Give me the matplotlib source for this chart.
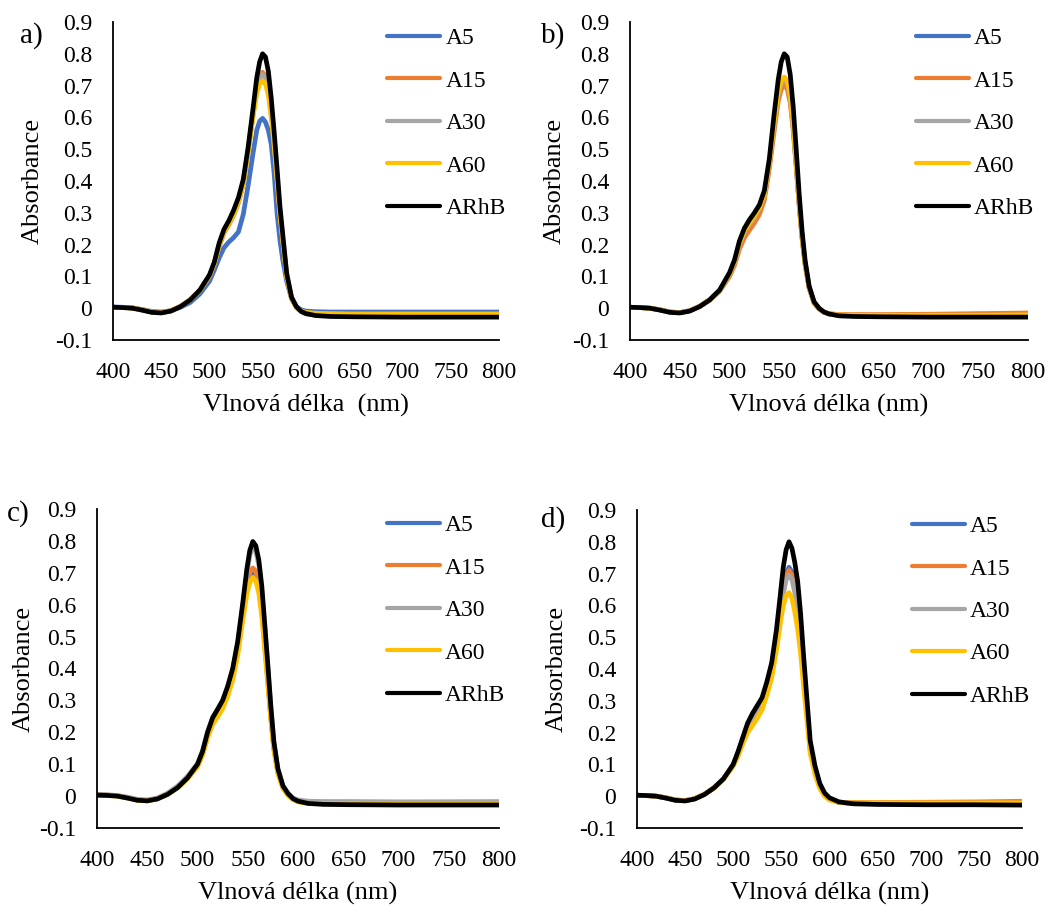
import matplotlib
matplotlib.use("Agg")
import matplotlib.pyplot as plt

plt.rcParams["font.family"] = "Liberation Serif"

# wavelength grid (nm) shared by all spectra
wl = [400, 410, 420, 430, 440, 450, 460, 470, 480, 490,
      500, 505, 510, 515, 520, 525, 530, 535, 540, 545,
      549, 552, 555, 558, 561, 564, 567, 570, 573, 576,
      580, 585, 590, 595, 600, 610, 625, 650, 700, 750, 800]

series_names = ["A5", "A15", "A30", "A60", "ARhB"]
series_colors = ["#4472C4", "#ED7D31", "#A5A5A5", "#FFC000", "#000000"]

x_ticks = [400, 450, 500, 550, 600, 650, 700, 750, 800]
y_ticks = [-0.1, 0, 0.1, 0.2, 0.3, 0.4, 0.5, 0.6, 0.7, 0.8, 0.9]
y_tick_labels = ["-0.1", "0", "0.1", "0.2", "0.3", "0.4", "0.5", "0.6", "0.7", "0.8", "0.9"]

# ---- panel a) ----
a_A5 = [0.004, 0.003, 0.001, -0.004, -0.010, -0.012, -0.008, 0.003, 0.018, 0.045,
        0.085, 0.120, 0.158, 0.190, 0.208, 0.222, 0.240, 0.295, 0.385, 0.485,
        0.560, 0.588, 0.597, 0.585, 0.560, 0.515, 0.424, 0.300, 0.214, 0.150,
        0.085, 0.030, 0.005, -0.005, -0.009, -0.011, -0.012, -0.012, -0.012, -0.012, -0.012]
a_A15 = [0.003, 0.002, 0.001, -0.005, -0.012, -0.014, -0.008, 0.006, 0.026, 0.055,
         0.100, 0.138, 0.194, 0.236, 0.262, 0.292, 0.332, 0.390, 0.495, 0.610,
         0.695, 0.730, 0.742, 0.730, 0.690, 0.620, 0.525, 0.415, 0.302, 0.215,
         0.103, 0.032, 0.003, -0.010, -0.016, -0.020, -0.021, -0.021, -0.021, -0.021, -0.021]
a_A30 = [0.003, 0.002, 0.001, -0.005, -0.012, -0.014, -0.008, 0.006, 0.026, 0.055,
         0.100, 0.139, 0.196, 0.238, 0.264, 0.294, 0.334, 0.392, 0.494, 0.605,
         0.688, 0.722, 0.735, 0.722, 0.684, 0.614, 0.520, 0.411, 0.300, 0.213,
         0.102, 0.031, 0.002, -0.011, -0.018, -0.022, -0.023, -0.023, -0.023, -0.023, -0.023]
a_A60 = [0.003, 0.002, 0.001, -0.005, -0.012, -0.014, -0.008, 0.006, 0.027, 0.057,
         0.102, 0.140, 0.197, 0.240, 0.265, 0.295, 0.335, 0.390, 0.490, 0.600,
         0.675, 0.705, 0.715, 0.705, 0.670, 0.600, 0.510, 0.405, 0.295, 0.210,
         0.100, 0.030, 0.003, -0.008, -0.013, -0.016, -0.017, -0.018, -0.018, -0.018, -0.018]
a_ARhB = [0.003, 0.002, 0.000, -0.006, -0.013, -0.015, -0.009, 0.005, 0.026, 0.057,
          0.105, 0.145, 0.205, 0.248, 0.275, 0.308, 0.348, 0.405, 0.505, 0.625,
          0.725, 0.775, 0.800, 0.790, 0.745, 0.660, 0.555, 0.440, 0.320, 0.230,
          0.110, 0.035, 0.005, -0.010, -0.017, -0.023, -0.026, -0.027, -0.028, -0.028, -0.028]

# ---- panel b) ----
b_A5 = [0.003, 0.002, 0.000, -0.005, -0.012, -0.014, -0.008, 0.006, 0.026, 0.055,
        0.105, 0.142, 0.198, 0.236, 0.260, 0.282, 0.308, 0.350, 0.450, 0.575,
        0.668, 0.703, 0.715, 0.705, 0.660, 0.570, 0.452, 0.328, 0.220, 0.138,
        0.064, 0.017, -0.002, -0.013, -0.018, -0.021, -0.022, -0.022, -0.022, -0.022, -0.022]
b_A15 = [0.003, 0.002, 0.000, -0.005, -0.012, -0.014, -0.008, 0.006, 0.025, 0.053,
         0.100, 0.135, 0.186, 0.222, 0.245, 0.268, 0.295, 0.340, 0.438, 0.560,
         0.652, 0.688, 0.700, 0.690, 0.646, 0.558, 0.443, 0.322, 0.216, 0.136,
         0.063, 0.016, -0.002, -0.012, -0.017, -0.020, -0.020, -0.020, -0.019, -0.017, -0.015]
b_A30 = [0.003, 0.002, 0.000, -0.005, -0.012, -0.014, -0.008, 0.006, 0.026, 0.055,
         0.106, 0.144, 0.200, 0.240, 0.264, 0.286, 0.312, 0.354, 0.455, 0.580,
         0.672, 0.706, 0.718, 0.708, 0.663, 0.573, 0.455, 0.330, 0.222, 0.139,
         0.065, 0.018, -0.002, -0.013, -0.018, -0.022, -0.023, -0.023, -0.023, -0.023, -0.023]
b_A60 = [0.003, 0.002, 0.000, -0.005, -0.012, -0.014, -0.008, 0.006, 0.027, 0.057,
         0.108, 0.147, 0.204, 0.244, 0.268, 0.290, 0.316, 0.358, 0.460, 0.588,
         0.680, 0.715, 0.727, 0.716, 0.670, 0.580, 0.460, 0.334, 0.224, 0.140,
         0.066, 0.018, -0.001, -0.012, -0.017, -0.021, -0.022, -0.022, -0.022, -0.022, -0.021]
b_ARhB = [0.003, 0.002, 0.000, -0.006, -0.013, -0.015, -0.009, 0.005, 0.026, 0.057,
          0.112, 0.152, 0.212, 0.252, 0.278, 0.300, 0.325, 0.370, 0.470, 0.615,
          0.720, 0.775, 0.800, 0.790, 0.735, 0.634, 0.500, 0.360, 0.240, 0.150,
          0.070, 0.020, 0.000, -0.012, -0.018, -0.024, -0.026, -0.027, -0.028, -0.028, -0.028]

# ---- panel c) ----
c_A5 = [0.004, 0.003, 0.001, -0.005, -0.012, -0.014, -0.008, 0.006, 0.027, 0.056,
        0.095, 0.132, 0.188, 0.230, 0.256, 0.282, 0.322, 0.375, 0.455, 0.565,
        0.650, 0.690, 0.705, 0.695, 0.655, 0.580, 0.472, 0.360, 0.245, 0.150,
        0.075, 0.027, 0.005, -0.009, -0.015, -0.020, -0.021, -0.021, -0.021, -0.021, -0.021]
c_A15 = [0.004, 0.003, 0.001, -0.005, -0.012, -0.014, -0.008, 0.006, 0.027, 0.056,
         0.095, 0.133, 0.190, 0.232, 0.258, 0.285, 0.326, 0.380, 0.462, 0.574,
         0.660, 0.700, 0.715, 0.705, 0.664, 0.588, 0.478, 0.365, 0.248, 0.152,
         0.076, 0.027, 0.005, -0.009, -0.015, -0.019, -0.020, -0.020, -0.020, -0.019, -0.018]
c_A30 = [0.005, 0.004, 0.002, -0.003, -0.010, -0.012, -0.006, 0.009, 0.031, 0.062,
         0.102, 0.142, 0.202, 0.247, 0.273, 0.300, 0.342, 0.396, 0.478, 0.594,
         0.695, 0.755, 0.780, 0.768, 0.724, 0.642, 0.523, 0.400, 0.273, 0.166,
         0.084, 0.032, 0.009, -0.006, -0.012, -0.016, -0.017, -0.017, -0.018, -0.018, -0.018]
c_A60 = [0.003, 0.002, 0.000, -0.006, -0.013, -0.015, -0.009, 0.005, 0.025, 0.054,
         0.092, 0.128, 0.182, 0.224, 0.248, 0.274, 0.312, 0.364, 0.442, 0.550,
         0.632, 0.670, 0.685, 0.675, 0.636, 0.562, 0.456, 0.348, 0.236, 0.143,
         0.070, 0.024, 0.002, -0.011, -0.018, -0.023, -0.024, -0.024, -0.025, -0.025, -0.025]
c_ARhB = [0.003, 0.002, 0.000, -0.006, -0.013, -0.015, -0.009, 0.005, 0.026, 0.057,
          0.100, 0.140, 0.200, 0.245, 0.272, 0.300, 0.344, 0.400, 0.485, 0.605,
          0.710, 0.770, 0.798, 0.785, 0.740, 0.657, 0.535, 0.410, 0.280, 0.170,
          0.085, 0.032, 0.008, -0.008, -0.016, -0.023, -0.026, -0.027, -0.028, -0.028, -0.028]

# ---- panel d) ----
d_A5 = [0.003, 0.002, 0.000, -0.005, -0.012, -0.014, -0.008, 0.006, 0.026, 0.055,
        0.098, 0.136, 0.180, 0.224, 0.252, 0.276, 0.300, 0.345, 0.400, 0.490,
        0.585, 0.655, 0.702, 0.720, 0.705, 0.662, 0.605, 0.515, 0.400, 0.295,
        0.155, 0.082, 0.032, 0.005, -0.009, -0.020, -0.022, -0.023, -0.023, -0.023, -0.022]
d_A15 = [0.003, 0.002, 0.000, -0.005, -0.012, -0.014, -0.008, 0.006, 0.026, 0.055,
         0.097, 0.134, 0.178, 0.221, 0.249, 0.273, 0.297, 0.342, 0.396, 0.485,
         0.578, 0.647, 0.693, 0.710, 0.695, 0.653, 0.597, 0.508, 0.395, 0.291,
         0.153, 0.081, 0.032, 0.005, -0.009, -0.019, -0.020, -0.020, -0.019, -0.018, -0.016]
d_A30 = [0.003, 0.002, 0.000, -0.005, -0.012, -0.014, -0.008, 0.006, 0.026, 0.055,
         0.097, 0.133, 0.177, 0.220, 0.247, 0.271, 0.295, 0.340, 0.393, 0.480,
         0.568, 0.635, 0.680, 0.695, 0.681, 0.640, 0.585, 0.498, 0.387, 0.285,
         0.150, 0.080, 0.031, 0.004, -0.010, -0.020, -0.022, -0.023, -0.023, -0.023, -0.023]
d_A60 = [0.003, 0.002, 0.000, -0.005, -0.012, -0.014, -0.008, 0.006, 0.025, 0.053,
         0.095, 0.125, 0.165, 0.200, 0.222, 0.245, 0.272, 0.318, 0.372, 0.460,
         0.545, 0.600, 0.630, 0.640, 0.622, 0.580, 0.525, 0.450, 0.350, 0.258,
         0.135, 0.068, 0.024, 0.000, -0.012, -0.019, -0.021, -0.021, -0.021, -0.021, -0.021]
d_ARhB = [0.003, 0.002, 0.000, -0.006, -0.013, -0.015, -0.009, 0.005, 0.026, 0.055,
          0.100, 0.140, 0.185, 0.230, 0.260, 0.285, 0.310, 0.360, 0.420, 0.525,
          0.635, 0.720, 0.775, 0.800, 0.780, 0.735, 0.675, 0.575, 0.447, 0.330,
          0.175, 0.095, 0.040, 0.010, -0.005, -0.018, -0.024, -0.026, -0.027, -0.027, -0.028]


def draw_panel(fig, rect, label, label_xy, series, xlabel, leg_x, ylab_x):

    ax = fig.add_axes(rect)

    for name, color, ys in zip(series_names, series_colors, series):
        ax.plot(wl, ys, color=color, lw=3.4, label=name,
                solid_joinstyle="round", solid_capstyle="round")

    ax.set_xlim(400, 800)
    ax.set_ylim(-0.1, 0.9)
    ax.set_xticks(x_ticks)
    ax.set_yticks(y_ticks)
    ax.set_yticklabels(y_tick_labels)

    ax.tick_params(axis="both", length=0, labelsize=17)
    ax.tick_params(axis="x", pad=16)
    ax.tick_params(axis="y", pad=15)

    for side in ["top", "right"]:
        ax.spines[side].set_visible(False)
    for side in ["left", "bottom"]:
        ax.spines[side].set_linewidth(1.3)

    ax.set_xlabel(xlabel, fontsize=19, va="center")
    ax.set_ylabel("Absorbance", fontsize=19, va="center")
    ax.xaxis.set_label_coords(0.5, -0.205)
    ax.yaxis.set_label_coords(ylab_x, 0.5)

    leg = ax.legend(
        loc="upper left",
        bbox_to_anchor=(leg_x, 0.982),
        frameon=False,
        fontsize=17,
        handlelength=2.25,
        handletextpad=0.22,
        labelspacing=0.885,
        borderpad=0,
        borderaxespad=0,
    )
    for line in leg.get_lines():
        line.set_linewidth(3.0)

    fig.text(label_xy[0], label_xy[1], label, fontsize=21, ha="left", va="center")

    return ax


def main():

    fig = plt.figure(figsize=(10.49, 9.05), dpi=100)

    draw_panel(fig, [0.1077, 0.6243, 0.3680, 0.3514], "a)", (0.019, 0.961),
               [a_A5, a_A15, a_A30, a_A60, a_ARhB],
               "Vlnová délka  (nm)", 0.71, -0.207)

    draw_panel(fig, [0.6006, 0.6243, 0.3794, 0.3514], "b)", (0.516, 0.961),
               [b_A5, b_A15, b_A30, b_A60, b_ARhB],
               "Vlnová délka (nm)", 0.718, -0.188)

    draw_panel(fig, [0.0925, 0.0851, 0.3832, 0.3525], "c)", (0.007, 0.433),
               [c_A5, c_A15, c_A30, c_A60, c_ARhB],
               "Vlnová délka (nm)", 0.721, -0.182)

    draw_panel(fig, [0.6072, 0.0851, 0.3670, 0.3514], "d)", (0.516, 0.426),
               [d_A5, d_A15, d_A30, d_A60, d_ARhB],
               "Vlnová délka (nm)", 0.714, -0.208)

    fig.savefig("out.png", dpi=100)


if __name__ == "__main__":
    main()
